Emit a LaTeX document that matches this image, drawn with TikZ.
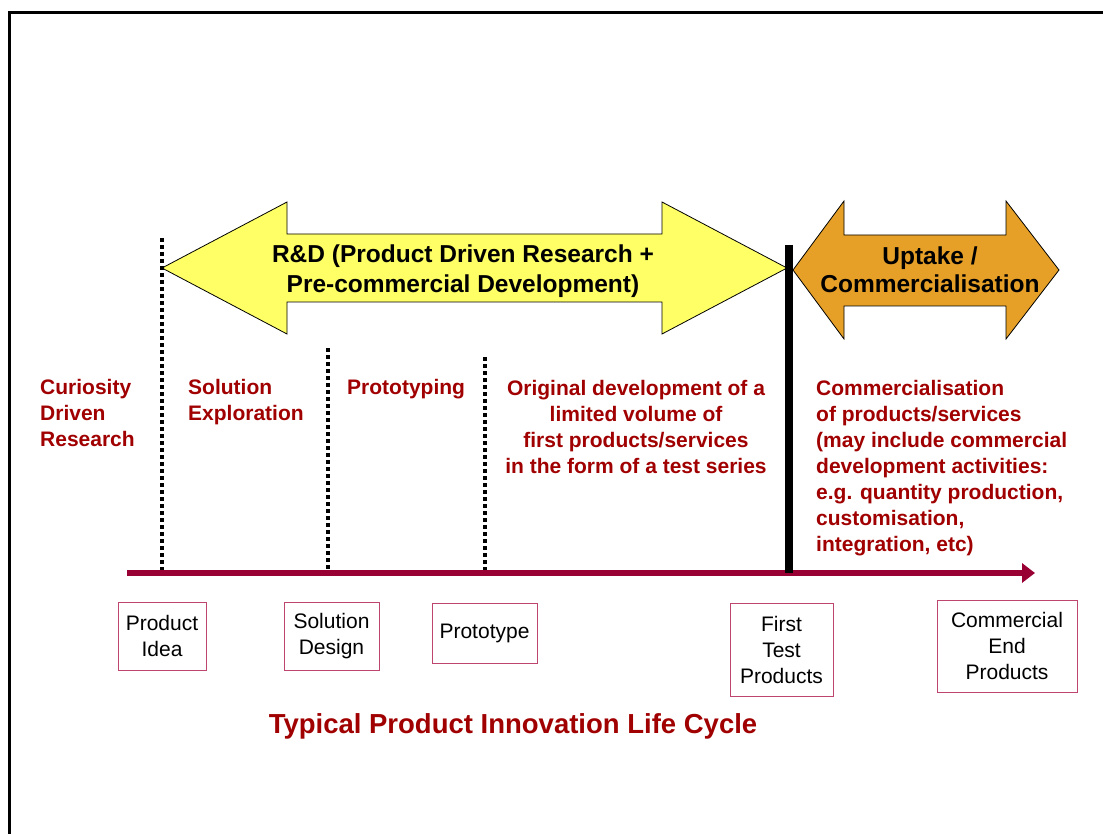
\documentclass[tikz,border=0pt]{standalone}
\usepackage{fontspec}
\setmainfont{Liberation Sans}
\usepackage{tikz}
\usetikzlibrary{arrows.meta}
\definecolor{darkred}{RGB}{160,0,0}
\definecolor{linered}{RGB}{153,0,51}
\definecolor{boxred}{RGB}{190,70,110}
\definecolor{rdyellow}{RGB}{255,255,102}
\definecolor{uptakeorange}{RGB}{230,160,40}

\begin{document}
\begin{tikzpicture}[x=1pt,y=-1pt]
\tikzset{>={Triangle[length=13pt,width=19pt]}}
\tikzstyle{phase}=[anchor=north west,inner sep=0pt,align=left,text=darkred,font=\fontsize{21}{26}\selectfont\bfseries]
\tikzstyle{stage}=[draw=boxred,line width=0.9pt,fill=white,align=center,inner sep=0pt,font=\fontsize{21}{26}\selectfont]
\tikzstyle{divider}=[line width=4pt,dash pattern=on 4pt off 3pt]
\tikzstyle{banner}=[anchor=north,inner sep=0pt,align=center,font=\fontsize{24.5}{30}\selectfont\bfseries]

\useasboundingbox (0,0) rectangle (1103,834);
\draw[line width=3pt] (9,850) -- (9,13) -- (1110,13);

% the two big arrows
\draw[fill=rdyellow,line width=0.8pt] (162,268) -- (287,202) -- (287,234) -- (662,234) -- (662,202)
  -- (787,268) -- (662,334) -- (662,302) -- (287,302) -- (287,334) -- cycle;
\draw[fill=uptakeorange,line width=0.8pt] (793,270) -- (844,201) -- (844,235) -- (1006,235) -- (1006,201)
  -- (1059,270) -- (1006,339) -- (1006,306) -- (844,306) -- (844,339) -- cycle;
\node[banner] (rd) at (463,245) {R\&D (Product Driven Research +\\Pre-commercial Development)};
\node[banner,font=\fontsize{24.5}{28}\selectfont\bfseries] (uptake) at (930,247) {Uptake /\\Commercialisation};

% timeline
\coordinate (start) at (127,573);
\coordinate (end) at (1035,573);
\coordinate (t1) at (162,573);
\coordinate (t2) at (328,573);
\coordinate (t3) at (485,573);
\coordinate (t4) at (789,573);
\coordinate (d1) at (162,238);
\coordinate (d2) at (328,348);
\coordinate (d3) at (485,357);
\coordinate (bartop) at (789,245);

\draw[divider] (d1) -- (t1);
\draw[divider] (d2) -- (t2);
\draw[divider] (d3) -- (t3);
\draw[->,line width=6pt,linered] (start) -- (end);
\draw[line width=7.5pt] (bartop) -- (t4);

% phases
\node[phase] (curiosity) at (40,379) {Curiosity\\Driven\\Research};
\node[phase] (exploration) at (188,379) {Solution\\Exploration};
\node[phase] (prototyping) at (347,379) {Prototyping};
\node[phase,anchor=north,align=center] (original) at (636,380) {Original development of a\\limited volume of\\first products/services\\in the form of a test series};
\node[phase] (commercial) at (816,380) {Commercialisation\\of products/services\\(may include commercial\\development activities:\\e.g. quantity production,\\customisation,\\integration, etc)};

% stages
\node[stage,minimum width=88pt,minimum height=68pt] (idea) at (162,636) {Product\\Idea};
\node[stage,minimum width=95pt,minimum height=68pt] (design) at (331.5,636) {Solution\\Design};
\node[stage,minimum width=105pt,minimum height=60pt] (prototype) at (484.5,633) {Prototype};
\node[stage,minimum width=103pt,minimum height=93pt] (first) at (781.5,649.5) {First\\Test\\Products};
\node[stage,minimum width=140pt,minimum height=92pt] (endprod) at (1007,646) {Commercial\\End\\Products};

\node[anchor=base,inner sep=0pt,text=darkred,font=\fontsize{27.5}{33}\selectfont\bfseries] (title) at (513,733) {Typical Product Innovation Life Cycle};
\end{tikzpicture}
\end{document}
